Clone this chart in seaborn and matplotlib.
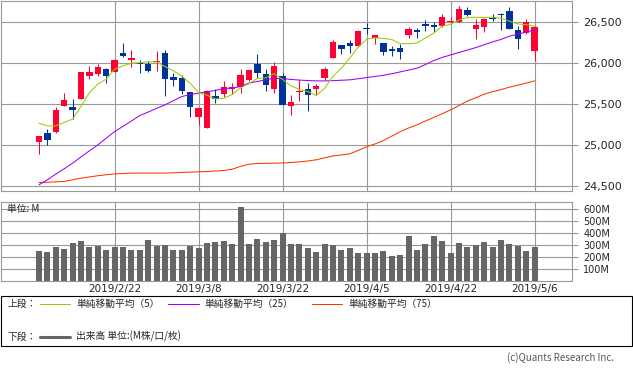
import numpy as np
import pandas as pd
import seaborn as sns
import matplotlib.pyplot as plt
from matplotlib.patches import Rectangle

# =========================================================
# DATA
# =========================================================

holidays = ["2019-02-18", "2019-04-19"]
dates = pd.bdate_range("2019-02-08", "2019-05-06", freq="C", holidays=holidays)

opens = [25039, 25145, 25150, 25480, 25464, 25566, 25847, 25872, 25925, 25896,
         26125, 26043, 25998, 25990, 26010, 26125, 25831, 25819, 25647, 25345,
         25203, 25594, 25627, 25688, 25704, 25794, 25990, 25864, 25688, 25843,
         25480, 25643, 25684, 25688, 25819, 26067, 26223, 26251, 26214, 26427,
         26312, 26247, 26170, 26186, 26349, 26406, 26480, 26471, 26459, 26504,
         26508, 26647, 26422, 26447, 26557, 26602, 26639, 26406, 26369, 26153]
highs = [25112, 25190, 25464, 25635, 25562, 25895, 25966, 25990, 25941, 26047,
         26251, 26161, 26039, 26027, 26149, 26161, 25876, 25851, 25650, 25455,
         25665, 25684, 25782, 25753, 25929, 25929, 26112, 25925, 26014, 25880,
         25611, 25794, 25761, 25745, 25953, 26284, 26225, 26284, 26406, 26488,
         26345, 26250, 26210, 26235, 26443, 26431, 26529, 26504, 26602, 26561,
         26700, 26688, 26541, 26548, 26598, 26610, 26688, 26455, 26541, 26445]
lows = [24884, 24999, 25140, 25470, 25317, 25560, 25810, 25843, 25761, 25890,
        26080, 25957, 25876, 25892, 25908, 25602, 25725, 25623, 25345, 25243,
        25200, 25517, 25590, 25623, 25639, 25782, 25823, 25664, 25631, 25490,
        25370, 25541, 25419, 25615, 25794, 26060, 26116, 26129, 26210, 26361,
        26239, 26104, 26092, 26055, 26304, 26312, 26394, 26386, 26439, 26488,
        26500, 26578, 26300, 26382, 26520, 26410, 26420, 26178, 26361, 26027]
closes = [25109, 25052, 25427, 25549, 25431, 25892, 25892, 25953, 25847, 26039,
          26092, 26063, 25986, 25904, 26027, 25810, 25798, 25660, 25468, 25451,
          25660, 25562, 25704, 25704, 25855, 25917, 25884, 25737, 25966, 25492,
          25525, 25664, 25615, 25721, 25929, 26263, 26174, 26214, 26394, 26418,
          26345, 26141, 26149, 26137, 26418, 26386, 26451, 26447, 26565, 26520,
          26663, 26594, 26467, 26545, 26545, 26590, 26422, 26300, 26500, 26443]

ma5 = [25264, 25231, 25231, 25272, 25314, 25470, 25638, 25743, 25803, 25925,
       25965, 25999, 26005, 26017, 26014, 25958, 25905, 25840, 25753, 25637,
       25607, 25560, 25569, 25616, 25697, 25748, 25813, 25819, 25872, 25799,
       25721, 25677, 25652, 25603, 25691, 25838, 25940, 26060, 26195, 26293,
       26309, 26302, 26289, 26238, 26238, 26246, 26308, 26368, 26453, 26474,
       26529, 26558, 26562, 26558, 26563, 26548, 26514, 26480, 26471, 26451]
ma25 = [24509, 24570, 24640, 24705, 24774, 24850, 24925, 24998, 25080, 25161,
        25225, 25290, 25357, 25400, 25445, 25488, 25540, 25590, 25615, 25631,
        25650, 25665, 25688, 25696, 25712, 25755, 25775, 25795, 25814, 25810,
        25800, 25792, 25786, 25782, 25782, 25785, 25790, 25795, 25808, 25823,
        25836, 25850, 25870, 25892, 25915, 25937, 25982, 26031, 26070, 26100,
        26130, 26160, 26190, 26225, 26260, 26290, 26330, 26355, 26380, 26406]
ma75 = [24537, 24540, 24545, 24550, 24570, 24590, 24605, 24620, 24632, 24642,
        24648, 24652, 24652, 24652, 24652, 24652, 24656, 24660, 24664, 24668,
        24672, 24678, 24685, 24700, 24735, 24762, 24770, 24772, 24774, 24776,
        24782, 24790, 24800, 24815, 24840, 24862, 24875, 24888, 24930, 24975,
        25010, 25050, 25105, 25160, 25205, 25243, 25290, 25335, 25380, 25427,
        25480, 25535, 25575, 25620, 25650, 25675, 25705, 25730, 25755, 25782]

volume = [249, 241, 283, 266, 317, 333, 283, 291, 258, 283,
          283, 258, 258, 342, 291, 300, 258, 258, 291, 275,
          317, 325, 333, 308, 619, 308, 350, 325, 342, 395,
          308, 308, 272, 241, 308, 300, 258, 275, 232, 232,
          232, 249, 207, 216, 375, 258, 308, 375, 333, 232,
          317, 283, 300, 325, 283, 342, 308, 291, 249, 283]

tick_dates = ["2019/2/22", "2019/3/8", "2019/3/22", "2019/4/5", "2019/4/22", "2019/5/6"]
price_ticks = [24500, 25000, 25500, 26000, 26500]
volume_ticks = [100, 200, 300, 400, 500, 600]

# =========================================================
# SETTINGS
# =========================================================

sns.set_style("white")
plt.rcParams["font.family"] = ["Noto Sans CJK JP", "DejaVu Sans"]

RED = "#ff0033"
BLUE = "#003399"
GRID = "#999999"
W, H = 633, 371

fig = plt.figure(figsize=(W / 100, H / 100), dpi=100)


def px_axes(x0, y0, x1, y1):
    return fig.add_axes([x0 / W, 1 - y1 / H, (x1 - x0) / W, (y1 - y0) / H])


idx = np.arange(len(dates))
labels = [f"{d.year}/{d.month}/{d.day}" for d in dates]
tick_pos = [labels.index(t) for t in tick_dates]

x_left = (0.5 - 39) / 8.4
x_right = (572 - 39) / 8.4

# =========================================================
# PRICE PANEL
# =========================================================

ax = px_axes(0.5, 0.5, 572, 190.5)

o = np.array(opens)
c = np.array(closes)
colors = [RED if cc >= oo else BLUE for oo, cc in zip(o, c)]
body_low = np.minimum(o, c)
body_h = np.maximum(np.abs(c - o), 10)

ax.vlines(idx, lows, highs, colors=colors, lw=0.75, zorder=3)
ax.bar(idx, body_h, bottom=body_low, width=0.75, color=colors, lw=0, zorder=4)

sns.lineplot(x=idx, y=ma75, ax=ax, color="#ff3300", lw=0.75, zorder=5)
sns.lineplot(x=idx, y=ma25, ax=ax, color="#9900ff", lw=0.75, zorder=5)
sns.lineplot(x=idx, y=ma5, ax=ax, color="#99cc00", lw=0.75, zorder=5)

ax.set_xlim(x_left, x_right)
ax.set_ylim(24439, 26767)
ax.set_xticks(tick_pos)
ax.set_xticklabels([])
ax.set_yticks(price_ticks)
ax.set_yticklabels([f"{v:,}" for v in price_ticks], family="DejaVu Sans", fontsize=8)
ax.yaxis.tick_right()
ax.tick_params(axis="y", length=4, width=0.8, color=GRID, pad=4)
ax.tick_params(axis="x", length=0)
ax.grid(True, color=GRID, lw=0.8)
ax.set_axisbelow(True)
ax.set_xlabel("")
ax.set_ylabel("")
for s in ax.spines.values():
    s.set_color(GRID)
    s.set_linewidth(0.8)

# =========================================================
# VOLUME PANEL
# =========================================================

axv = px_axes(0.5, 201.7, 572, 280.5)

sns.barplot(x=idx, y=volume, ax=axv, color="#666666", saturation=1,
            width=0.7, linewidth=0, errorbar=None, zorder=3)

axv.set_xlim(x_left, x_right)
axv.set_ylim(0, 660)
axv.set_xticks(tick_pos)
axv.set_xticklabels(tick_dates, family="DejaVu Sans", fontsize=7.5)
axv.set_yticks(volume_ticks)
axv.set_yticklabels([f"{v}M" for v in volume_ticks], family="DejaVu Sans", fontsize=7)
axv.yaxis.tick_right()
axv.tick_params(axis="y", length=4, width=0.8, color=GRID, pad=4)
axv.tick_params(axis="x", length=0, pad=2.5)
axv.grid(True, color=GRID, lw=0.8)
axv.set_axisbelow(True)
axv.set_xlabel("")
axv.set_ylabel("")
for s in axv.spines.values():
    s.set_color(GRID)
    s.set_linewidth(0.8)

axv.text(7 / 572, 1 - (209 - 201.7) / 78.8, "単位: M", transform=axv.transAxes,
         fontsize=7, va="center", ha="left", zorder=6)

# =========================================================
# LEGEND BOX + CREDIT
# =========================================================

lay = fig.add_axes([0, 0, 1, 1])
lay.set_xlim(0, W)
lay.set_ylim(H, 0)
lay.axis("off")

lay.add_patch(Rectangle((0.5, 295.7), 631.5, 50.3, fill=False, ec="black", lw=0.8))

row1, row2 = 303.5, 336.7
kw = dict(fontsize=7, va="center", ha="left")

lay.text(8, row1, "上段：", **kw)
lay.plot([40, 70], [row1, row1], color="#99cc00", lw=0.75)
lay.text(76, row1, "単純移動平均（5）", **kw)
lay.plot([168, 199], [row1, row1], color="#9900ff", lw=0.75)
lay.text(204, row1, "単純移動平均（25）", **kw)
lay.plot([312, 342], [row1, row1], color="#ff3300", lw=0.75)
lay.text(348, row1, "単純移動平均（75）", **kw)

lay.text(8, row2, "下段：", **kw)
lay.plot([40, 70], [row2, row2], color="#666666", lw=2.2)
lay.text(76, row2, "出来高 単位:(M株/口/枚)", **kw)

lay.text(614, 357.5, "(c)Quants Research Inc.", fontsize=7, color="#555555",
         va="center", ha="right")

fig.savefig("out.png", dpi=100)
